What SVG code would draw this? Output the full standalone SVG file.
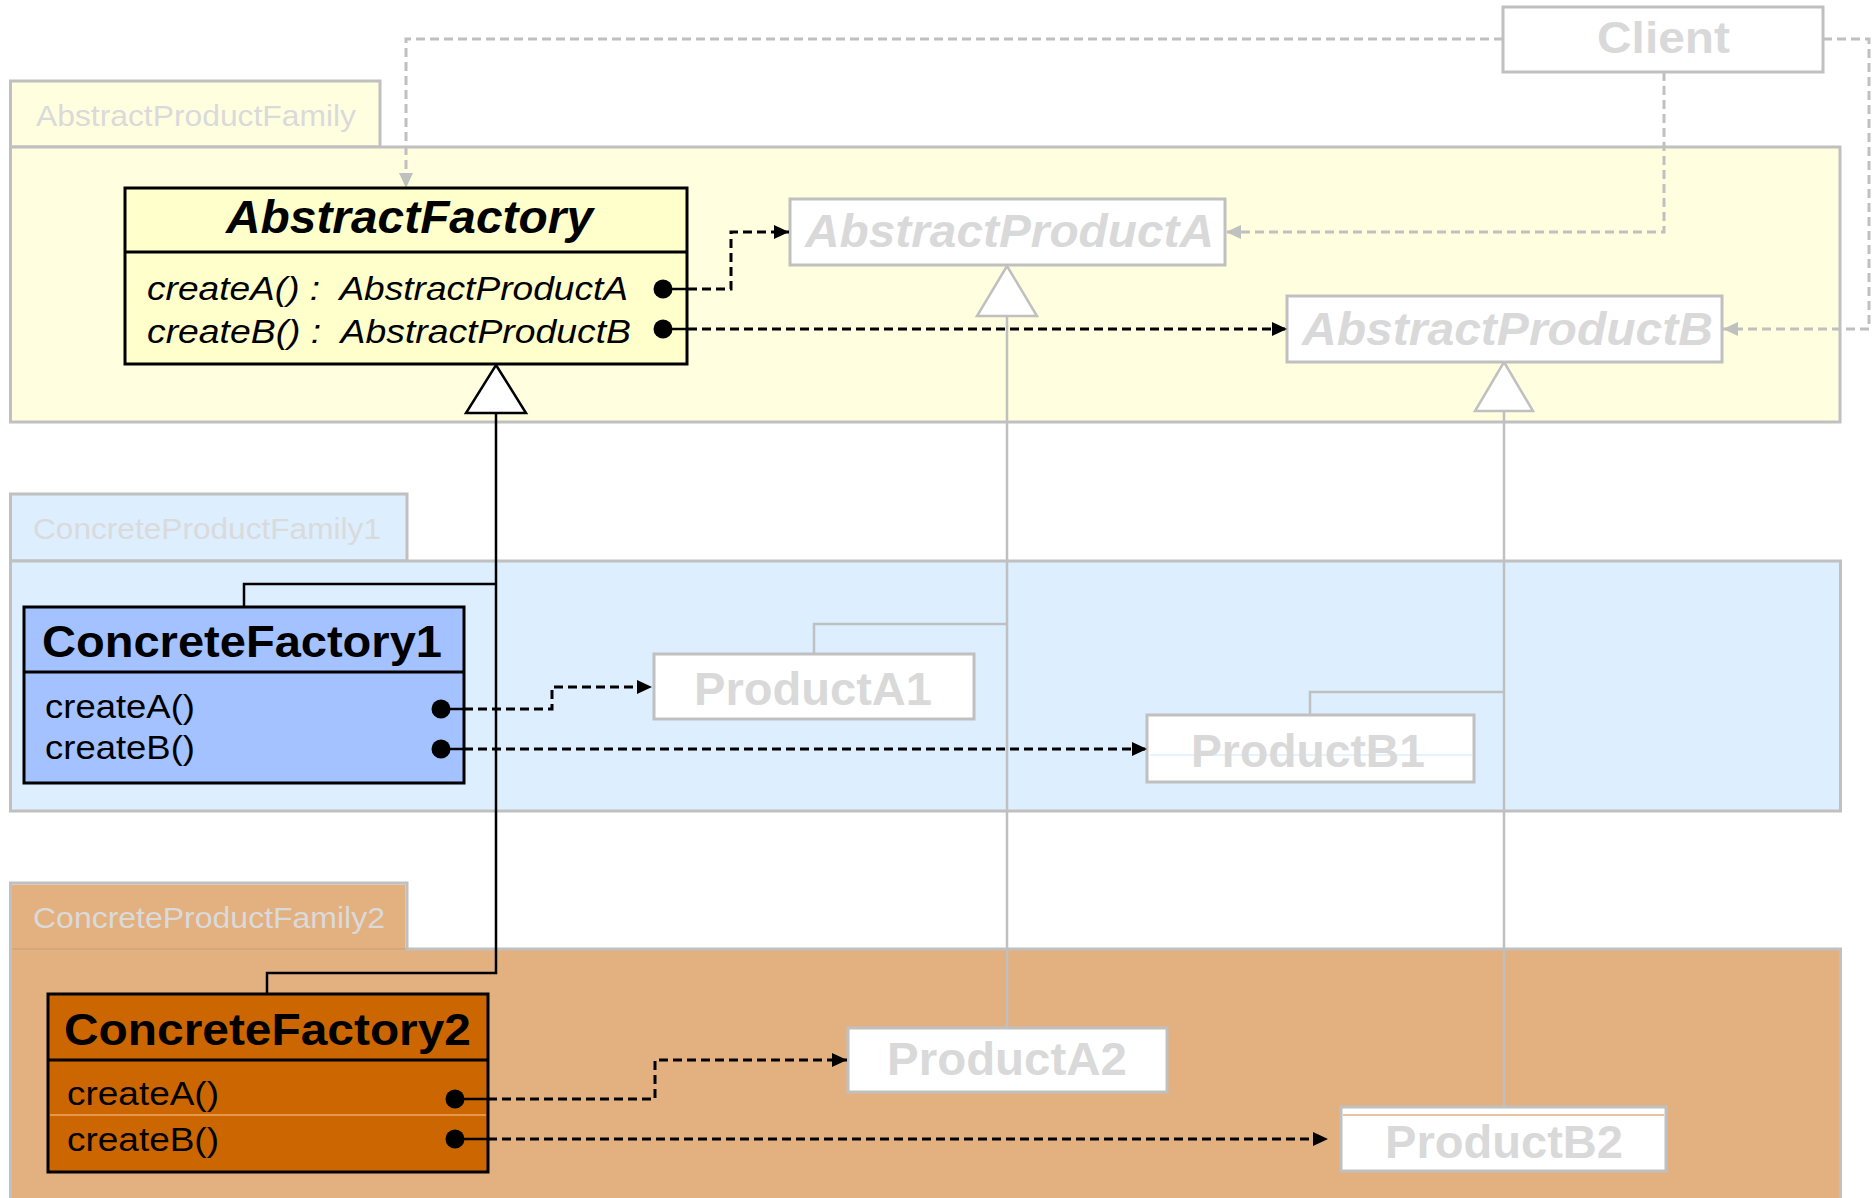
<svg xmlns="http://www.w3.org/2000/svg" width="1872" height="1198" viewBox="0 0 1872 1198">
  <defs>
    <style>
      text { font-family: "Liberation Sans", Arial, sans-serif; white-space: pre; }
      .panel { stroke: #C0C0C0; stroke-width: 3; }
      .tablabel { font-size: 30px; fill: #DADADA; }
      .cls { stroke: #000; stroke-width: 3; }
      .title { font-size: 44px; font-weight: bold; fill: #000; }
      .op { font-size: 34px; fill: #000; }
      .ghost { fill: #FFFFFF; stroke: #C0C0C0; stroke-width: 3; }
      .ghosttext { font-size: 47px; font-weight: bold; fill: #D9D9D9; }
      .solid { fill: none; stroke: #000; stroke-width: 2.5; }
      .dash { fill: none; stroke: #000; stroke-width: 3; stroke-dasharray: 9 5; }
      .gdash { fill: none; stroke: #C0C0C0; stroke-width: 3; stroke-dasharray: 9 5; }
      .gline { fill: none; stroke: #C0C0C0; stroke-width: 2.5; }
      .tri { fill: #FFFFFF; stroke: #000; stroke-width: 2.5; }
      .gtri { fill: #FFFFFF; stroke: #C0C0C0; stroke-width: 2.5; }
      .dot { fill: #000; }
    </style>
    <marker id="arrow" markerUnits="userSpaceOnUse" markerWidth="16" markerHeight="16" refX="15" refY="7" orient="auto" overflow="visible">
      <path d="M0,0 L15,7 L0,14 Z" fill="#000"/>
    </marker>
    <marker id="garrow" markerUnits="userSpaceOnUse" markerWidth="16" markerHeight="16" refX="15" refY="7" orient="auto" overflow="visible">
      <path d="M0,0 L15,7 L0,14 Z" fill="#C0C0C0"/>
    </marker>
  </defs>

  <rect width="1872" height="1198" fill="#FFFFFF"/>

  <!-- package: AbstractProductFamily -->
  <g id="pkg-abstract">
    <rect class="panel" x="10.5" y="81" width="369.5" height="66" fill="#FFFFE0"/>
    <rect class="panel" x="10.5" y="147" width="1829.5" height="275" fill="#FFFFE0"/>
    <text class="tablabel" x="36" y="126" textLength="320" lengthAdjust="spacingAndGlyphs">AbstractProductFamily</text>
  </g>

  <!-- package: ConcreteProductFamily1 -->
  <g id="pkg-concrete1">
    <rect class="panel" x="10.5" y="494" width="396.5" height="67" fill="#DDEEFF"/>
    <rect class="panel" x="10.5" y="561" width="1830" height="250" fill="#DDEEFF"/>
    <text class="tablabel" x="33" y="539" textLength="348" lengthAdjust="spacingAndGlyphs">ConcreteProductFamily1</text>
  </g>

  <!-- package: ConcreteProductFamily2 -->
  <g id="pkg-concrete2">
    <rect class="panel" x="10.5" y="949" width="1830" height="260" fill="#E3B080"/>
    <rect x="12" y="884.5" width="393.5" height="66" fill="#E3B080"/>
    <path class="panel" d="M10.5,950 V883 H407 V950" fill="none"/>
    <line x1="12" y1="949" x2="405.5" y2="949" stroke="#D6A472" stroke-width="1.5"/>
    <text class="tablabel" x="33" y="928" textLength="352" lengthAdjust="spacingAndGlyphs">ConcreteProductFamily2</text>
  </g>

  <!-- connectors -->
  <g id="connectors">
    <!-- Client dependencies -->
    <path class="gdash" d="M1503,39 H406 V188" marker-end="url(#garrow)"/>
    <path class="gdash" d="M1664,72 V232 H1226" marker-end="url(#garrow)"/>
    <path class="gdash" d="M1823,39 H1869 V329 H1723" marker-end="url(#garrow)"/>

    <!-- generalization: AbstractFactory -->
    <path class="solid" d="M496,413 V973 H267 V994"/>
    <path class="solid" d="M496,584 H244 V607"/>
    <path class="tri" d="M496,365 L526,413 L466,413 Z"/>

    <!-- generalization: AbstractProductA -->
    <path class="gline" d="M1007,316 V1028"/>
    <path class="gline" d="M1007,624 H814 V654"/>
    <path class="gtri" d="M1007,266 L1037,316 L977,316 Z"/>

    <!-- generalization: AbstractProductB -->
    <path class="gline" d="M1504,411 V1107"/>
    <path class="gline" d="M1504,692 H1310 V715"/>
    <path class="gtri" d="M1504,362 L1533,411 L1475,411 Z"/>
  </g>

  <!-- Client -->
  <g id="client">
    <rect class="ghost" x="1503" y="7" width="320" height="65"/>
    <text class="ghosttext" x="1597" y="53" style="font-size:44px" textLength="133" lengthAdjust="spacingAndGlyphs">Client</text>
  </g>

  <!-- AbstractFactory -->
  <g id="abstract-factory">
    <rect class="cls" x="125" y="188" width="562" height="176" fill="#FFFFCC"/>
    <line class="cls" x1="125" y1="252" x2="687" y2="252"/>
    <text x="226" y="233" style="font-size:46px;font-weight:bold;font-style:italic" textLength="367" lengthAdjust="spacingAndGlyphs">AbstractFactory</text>
    <text class="op" x="147" y="300" font-style="italic" xml:space="preserve" textLength="481" lengthAdjust="spacingAndGlyphs">createA() :  AbstractProductA</text>
    <text class="op" x="147" y="343" font-style="italic" xml:space="preserve" textLength="484" lengthAdjust="spacingAndGlyphs">createB() :  AbstractProductB</text>
  </g>

  <!-- AbstractProductA -->
  <g id="abstract-product-a">
    <rect class="ghost" x="790" y="199" width="435" height="66"/>
    <text class="ghosttext" x="805" y="247" font-style="italic" textLength="409" lengthAdjust="spacingAndGlyphs">AbstractProductA</text>
  </g>

  <!-- AbstractProductB -->
  <g id="abstract-product-b">
    <rect class="ghost" x="1287" y="296" width="435" height="66"/>
    <text class="ghosttext" x="1302" y="345" font-style="italic" textLength="411" lengthAdjust="spacingAndGlyphs">AbstractProductB</text>
  </g>

  <!-- ConcreteFactory1 -->
  <g id="concrete-factory1">
    <rect class="cls" x="24" y="607" width="440" height="176" fill="#A4C2FF"/>
    <line class="cls" x1="24" y1="672" x2="464" y2="672"/>
    <text class="title" x="42" y="657" textLength="400" lengthAdjust="spacingAndGlyphs">ConcreteFactory1</text>
    <text class="op" x="45" y="718" textLength="150" lengthAdjust="spacingAndGlyphs">createA()</text>
    <text class="op" x="45" y="759" textLength="150" lengthAdjust="spacingAndGlyphs">createB()</text>
  </g>

  <!-- ProductA1 -->
  <g id="product-a1">
    <rect class="ghost" x="654" y="654" width="320" height="65"/>
    <text class="ghosttext" x="694" y="705" textLength="238" lengthAdjust="spacingAndGlyphs">ProductA1</text>
  </g>

  <!-- ProductB1 -->
  <g id="product-b1">
    <rect class="ghost" x="1147" y="715" width="327" height="67"/>
    <line x1="1150" y1="755" x2="1472" y2="755" stroke="#DDEEFF" stroke-width="1.5"/>
    <text class="ghosttext" x="1191" y="767" textLength="234" lengthAdjust="spacingAndGlyphs">ProductB1</text>
  </g>

  <!-- ConcreteFactory2 -->
  <g id="concrete-factory2">
    <rect class="cls" x="48" y="994" width="440" height="178" fill="#CC6600"/>
    <line class="cls" x1="48" y1="1060" x2="488" y2="1060"/>
    <line x1="50" y1="1115" x2="486" y2="1115" stroke="#EFA868" stroke-width="1.5"/>
    <text class="title" x="64" y="1045" textLength="407" lengthAdjust="spacingAndGlyphs">ConcreteFactory2</text>
    <text class="op" x="67" y="1105" textLength="152" lengthAdjust="spacingAndGlyphs">createA()</text>
    <text class="op" x="67" y="1151" textLength="152" lengthAdjust="spacingAndGlyphs">createB()</text>
  </g>

  <!-- ProductA2 -->
  <g id="product-a2">
    <rect class="ghost" x="848" y="1028" width="319" height="64"/>
    <text class="ghosttext" x="887" y="1075" textLength="240" lengthAdjust="spacingAndGlyphs">ProductA2</text>
  </g>

  <!-- ProductB2 -->
  <g id="product-b2">
    <rect class="ghost" x="1341" y="1107" width="325" height="64"/>
    <line x1="1343" y1="1115" x2="1664" y2="1115" stroke="#E3B080" stroke-width="1.5"/>
    <text class="ghosttext" x="1385" y="1158" textLength="238" lengthAdjust="spacingAndGlyphs">ProductB2</text>
  </g>

  <!-- creation links: solid stub from the operation dot, then dashed to the product -->
  <g id="creation-links">
    <path class="solid" d="M663,289 H688"/>
    <path class="dash" d="M688,289 H731 V232 H789" marker-end="url(#arrow)"/>
    <path class="solid" d="M663,329 H688"/>
    <path class="dash" d="M688,329 H1287" marker-end="url(#arrow)"/>
    <circle class="dot" cx="663" cy="289" r="9.5"/>
    <circle class="dot" cx="663" cy="329" r="9.5"/>

    <path class="solid" d="M441,709 H464"/>
    <path class="dash" d="M464,709 H552 V687 H652" marker-end="url(#arrow)"/>
    <path class="solid" d="M441,749 H464"/>
    <path class="dash" d="M464,749 H1147" marker-end="url(#arrow)"/>
    <circle class="dot" cx="441" cy="709" r="9.5"/>
    <circle class="dot" cx="441" cy="749" r="9.5"/>

    <path class="solid" d="M455,1099 H488"/>
    <path class="dash" d="M488,1099 H655 V1060 H847" marker-end="url(#arrow)"/>
    <path class="solid" d="M455,1139 H488"/>
    <path class="dash" d="M488,1139 H1328" marker-end="url(#arrow)"/>
    <circle class="dot" cx="455" cy="1099" r="9.5"/>
    <circle class="dot" cx="455" cy="1139" r="9.5"/>
  </g>
</svg>
